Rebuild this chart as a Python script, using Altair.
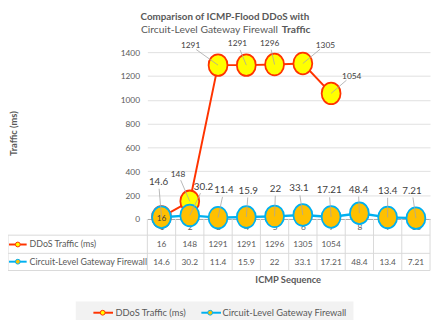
import altair as alt
import pandas as pd

# ---------------- data ----------------
categories = [1, 2, 3, 4, 5, 6, 7, 8, 9, 10]
ddos_values = [16, 148, 1291, 1291, 1296, 1305, 1054]
circuit_values = [14.6, 30.2, 11.4, 15.9, 22, 33.1, 17.21, 48.4, 13.4, 7.21]
series_names = ["DDoS Traffic  (ms)", "Circuit-Level Gateway Firewall"]
y_ticks = [0, 200, 400, 600, 800, 1000, 1200, 1400]
title_line1 = "Comparison of ICMP-Flood DDoS with"
title_line2a = "Circuit-Level Gateway Firewall"
title_line2b = "Traffic"
y_title = "Traffic (ms)"
x_title = "ICMP Sequence"

# ---------------- style ----------------
# data-label placement (pixel offsets from each point)
ddos_label_dx = [0, -12, -28, -9, -5, 23, 21]
ddos_label_dy = [1, -28, -20, -22, -22, -19, -18]
circuit_label_dx = [-3, 14, 6, 2, 1, -4, -2, -1, 0, -4]
circuit_label_dy = [-36, -29, -28, -27, -28, -27, -27, -24, -27, -28]

W, H = 288, 170
PX_X = W / 10.0
PX_Y = H / 1400.0
FONT = "Lato"
TXT = "#595959"
LBL = "#404040"
RED = "#FF3300"
YEL = "#FFFF00"
ORG = "#FFC000"
BLU = "#00B0F0"
GRID = "#D9D9D9"
ELLIPSE = "M-1,0A1,1.15 0 1,1 1,0A1,1.15 0 1,1 -1,0Z"

ddos_df = pd.DataFrame({
    "seq": categories[:len(ddos_values)],
    "value": ddos_values,
    "series": series_names[0],
    "dx": ddos_label_dx,
    "dy": ddos_label_dy,
})
circ_df = pd.DataFrame({
    "seq": categories,
    "value": circuit_values,
    "series": series_names[1],
    "dx": circuit_label_dx,
    "dy": circuit_label_dy,
})
bounds_df = pd.DataFrame({"seq": [c - 0.5 for c in categories] + [categories[-1] + 0.5]})

XS = alt.Scale(domain=[0.5, 10.5], nice=False, zero=False)
YS = alt.Scale(domain=[0, 1400], nice=False)
XA = alt.Axis(values=categories, title=None, format="d", domain=True,
              domainColor="#A6A6A6", domainWidth=1, ticks=False, grid=False,
              labelFont=FONT, labelFontSize=8.5, labelColor=TXT, labelPadding=4,
              labelFlush=False, labelOverlap=False)
YA = alt.Axis(values=y_ticks, title=None, format="d", domain=False, ticks=False,
              grid=True, gridColor=GRID, gridWidth=0.8, labelFont=FONT,
              labelFontSize=8.5, labelColor=TXT, labelPadding=8, labelOverlap=False)


def X(field="seq"):
    return alt.X(f"{field}:Q", scale=XS, axis=XA)


def Y(field="value"):
    return alt.Y(f"{field}:Q", scale=YS, axis=YA)


def fixed_text(text, x, y, **kw):
    return alt.Chart(pd.DataFrame({"t": [text]})).mark_text(**kw).encode(
        x=alt.value(x), y=alt.value(y), text="t:N")


def hrule(x1, x2, y, color=GRID, width=1):
    return alt.Chart(pd.DataFrame({"k": [0]})).mark_rule(
        color=color, strokeWidth=width).encode(
        x=alt.value(x1), x2=alt.value(x2), y=alt.value(y))


def vrule(x, y1, y2, color=GRID, width=1):
    return alt.Chart(pd.DataFrame({"k": [0]})).mark_rule(
        color=color, strokeWidth=width).encode(
        x=alt.value(x), y=alt.value(y1), y2=alt.value(y2))


def sym(x, y, fill, stroke):
    return alt.Chart(pd.DataFrame({"k": [0]})).mark_point(
        shape="circle", size=24, filled=True, fill=fill, stroke=stroke,
        strokeWidth=1, opacity=1).encode(x=alt.value(x), y=alt.value(y))


# table geometry (relative to plot origin)
T_LEFT = -142
T_TOP, T_MID, T_BOT = 186.5, 205, 222.5
ROW1, ROW2 = 196, 213.5

col_lines = alt.Chart(bounds_df).mark_rule(color=GRID, strokeWidth=1).encode(
    x=X(), y=alt.value(H), y2=alt.value(T_BOT))

table_lines = [
    hrule(T_LEFT, W, T_TOP), hrule(T_LEFT, W, T_MID), hrule(T_LEFT, W, T_BOT),
    vrule(T_LEFT, T_TOP, T_BOT),
]


def series_layers(df, line_color, fill, stroke, lw, label_size):
    line = alt.Chart(df).mark_line(color=line_color, strokeWidth=lw).encode(
        x=X(), y=Y())
    pts = alt.Chart(df).mark_point(
        shape=ELLIPSE, size=370, filled=True, fill=fill, stroke=stroke,
        strokeWidth=1.8, opacity=1).encode(x=X(), y=Y())
    geo = alt.Chart(df).transform_calculate(
        lx=f"datum.seq + datum.dx / {PX_X}",
        ly=f"datum.value - datum.dy / {PX_Y}",
        d="sqrt(datum.dx * datum.dx + datum.dy * datum.dy)",
    ).transform_calculate(
        k="(datum.d - 7) / datum.d",
    ).transform_calculate(
        ex=f"datum.seq + datum.dx * datum.k / {PX_X}",
        ey=f"datum.value - datum.dy * datum.k / {PX_Y}",
    )
    leaders = geo.transform_filter("datum.d > 12").mark_rule(
        color="#A6A6A6", strokeWidth=0.8).encode(
        x=X(), y=Y(), x2="ex:Q", y2="ey:Q")
    labels = geo.mark_text(font=FONT, fontSize=label_size, color=LBL,
                           baseline="middle", align="center").encode(
        x=X("lx"), y=Y("ly"), text="value:N")
    return [line, pts], [leaders, labels]


d_marks, d_labels = series_layers(ddos_df, RED, YEL, RED, 2, 8.5)
c_marks, c_labels = series_layers(circ_df, BLU, ORG, BLU, 2.5, 10)

table_text = [
    alt.Chart(ddos_df).mark_text(font=FONT, fontSize=8.5, color=TXT,
                                 baseline="middle").encode(
        x=X(), y=alt.value(ROW1), text="value:N"),
    alt.Chart(circ_df).mark_text(font=FONT, fontSize=8.5, color=TXT,
                                 baseline="middle").encode(
        x=X(), y=alt.value(ROW2), text="value:N"),
]

row_headers = [
    hrule(-141, -123, ROW1, RED, 2), sym(-132, ROW1, YEL, RED),
    fixed_text(series_names[0], -120, ROW1, font=FONT, fontSize=9, color=TXT,
               align="left", baseline="middle"),
    hrule(-141, -123, ROW2, BLU, 2), sym(-132, ROW2, ORG, BLU),
    fixed_text(series_names[1], -120, ROW2, font=FONT, fontSize=9, color=TXT,
               align="left", baseline="middle"),
]

titles = [
    fixed_text(title_line1, 79, -36, font=FONT, fontSize=10, fontWeight="bold",
               color=TXT, align="center", baseline="middle"),
    fixed_text(title_line2a, 133, -22, font=FONT, fontSize=10.5, color=TXT,
               align="right", baseline="middle"),
    fixed_text(title_line2b, 137, -22, font=FONT, fontSize=10.5, fontWeight="bold",
               color=TXT, align="left", baseline="middle"),
    fixed_text(y_title, -136, 83, font=FONT, fontSize=9.5, fontWeight="bold",
               color=TXT, angle=270, align="center", baseline="middle"),
    fixed_text(x_title, 143.5, 232.5, font=FONT, fontSize=9.5, fontWeight="bold",
               color=TXT, align="center", baseline="middle"),
]

legend_box = alt.Chart(pd.DataFrame({"k": [0]})).mark_rect(color="#F2F2F2").encode(
    x=alt.value(-73), x2=alt.value(210), y=alt.value(254), y2=alt.value(273))
LEG_Y = 265.5
legend = [
    legend_box,
    hrule(-55, -35, LEG_Y, RED, 2), sym(-45.5, LEG_Y, YEL, RED),
    fixed_text(series_names[0], -32.5, LEG_Y, font=FONT, fontSize=9.5, color=TXT,
               align="left", baseline="middle"),
    hrule(55, 75, LEG_Y, BLU, 2), sym(64, LEG_Y, ORG, BLU),
    fixed_text(series_names[1], 76.5, LEG_Y, font=FONT, fontSize=9.5, color=TXT,
               align="left", baseline="middle"),
]

chart = alt.layer(
    *d_marks, col_lines, *table_lines, *c_marks, *d_labels, *c_labels,
    *table_text, *row_headers, *titles, *legend,
).properties(
    width=W, height=H,
    padding={"left": 142, "top": 42, "right": 2, "bottom": 103},
    autosize=alt.AutoSizeParams(type="none"),
).configure_view(stroke=None)

chart.save("out.html", embed_options={"renderer": "svg", "actions": False})
